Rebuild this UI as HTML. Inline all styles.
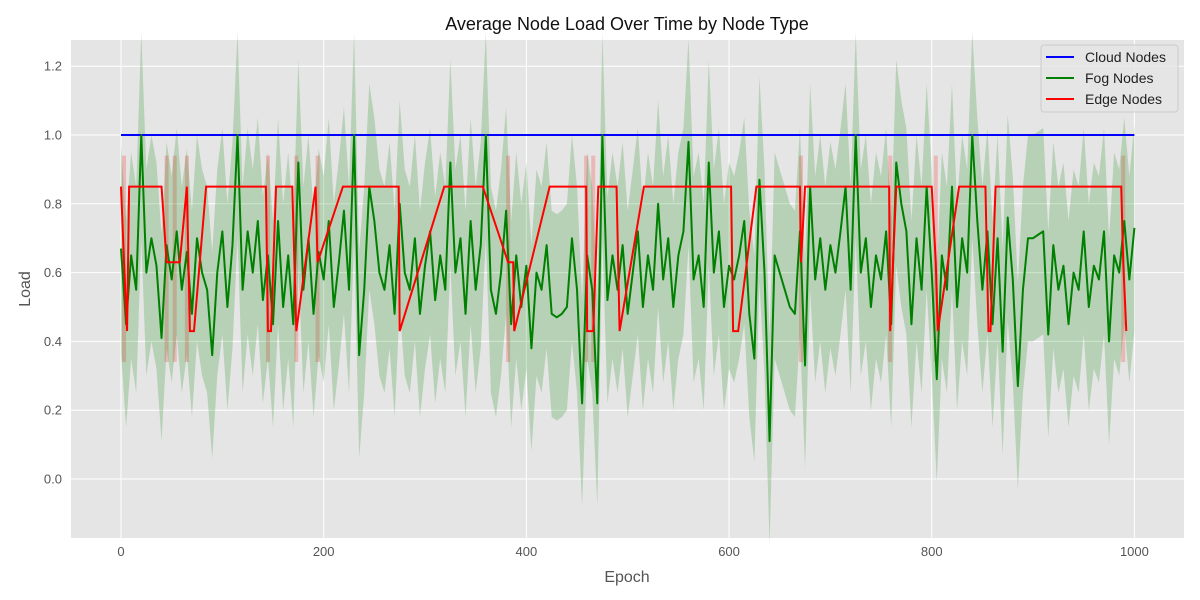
<!DOCTYPE html>
<html><head><meta charset="utf-8"><style>
body{margin:0;background:#fff;}
svg{display:block;font-family:"Liberation Sans","DejaVu Sans",sans-serif;}
</style></head><body>
<svg id="chart" width="1200" height="600" xmlns="http://www.w3.org/2000/svg">
<rect x="0" y="0" width="1200" height="600" fill="#fff"/>
<rect x="71" y="40" width="1113" height="498" fill="#e5e5e5"/>
<g id="grid"></g>
<g id="marks"></g>
<g id="axes"></g>
<text x="627" y="30" text-anchor="middle" font-size="18" fill="#111">Average Node Load Over Time by Node Type</text>
<text x="627" y="582" text-anchor="middle" font-size="16" fill="#555">Epoch</text>
<text x="30" y="289" text-anchor="middle" font-size="16" fill="#555" transform="rotate(-90 30 289)">Load</text>
<g>
<rect x="1041" y="45" width="137" height="67" fill="#e5e5e5" stroke="#ccc" rx="3" fill-opacity="0.8"/>
<g><line x1="1046" y1="57" x2="1074" y2="57" stroke="#0000ff" stroke-width="2"/><text x="1085" y="62" font-size="14" fill="#222">Cloud Nodes</text></g>
<g><line x1="1046" y1="78" x2="1074" y2="78" stroke="#008000" stroke-width="2"/><text x="1085" y="83" font-size="14" fill="#222">Fog Nodes</text></g>
<g><line x1="1046" y1="99" x2="1074" y2="99" stroke="#ff0000" stroke-width="2"/><text x="1085" y="104" font-size="14" fill="#222">Edge Nodes</text></g>
</g>
</svg>
<script>
const xTicks=[0,200,400,600,800,1000];
const yTicks=[0.0,0.2,0.4,0.6,0.8,1.0,1.2];
const cloudEpochs=[0,1000];
const cloudValues=[1.0,1.0];
const fogValues=[0.67,0.45,0.65,0.55,1.0,0.6,0.7,0.62,0.41,0.68,0.58,0.72,0.55,0.66,0.48,0.7,0.6,0.55,0.36,0.6,0.72,0.5,0.68,1.0,0.55,0.72,0.6,0.75,0.52,0.65,0.45,0.75,0.5,0.65,0.45,0.92,0.55,0.7,0.48,0.66,0.58,0.75,0.5,0.63,0.78,0.55,1.0,0.36,0.55,0.85,0.75,0.6,0.55,0.68,0.48,0.8,0.6,0.55,0.7,0.48,0.62,0.72,0.52,0.65,0.55,0.92,0.6,0.7,0.48,0.75,0.55,0.68,1.0,0.55,0.48,0.6,0.78,0.45,0.65,0.5,0.62,0.38,0.6,0.55,0.68,0.48,0.47,0.48,0.5,0.7,0.55,0.22,0.65,0.55,0.22,1.0,0.52,0.65,0.55,0.68,0.48,0.6,0.72,0.5,0.65,0.55,0.8,0.58,0.7,0.5,0.65,0.72,0.98,0.58,0.65,0.5,0.92,0.6,0.72,0.5,0.62,0.58,0.65,0.75,0.48,0.35,0.87,0.6,0.11,0.65,0.6,0.55,0.5,0.48,0.72,0.33,0.85,0.58,0.7,0.55,0.68,0.6,0.72,0.85,0.55,1.0,0.6,0.7,0.5,0.65,0.58,0.72,0.45,0.92,0.8,0.72,0.45,0.7,0.55,0.85,0.6,0.29,0.65,0.55,0.85,0.5,0.7,0.6,1.0,0.75,0.55,0.72,0.45,0.7,0.37,0.76,0.58,0.27,0.55,0.7,0.7,0.71,0.72,0.42,0.68,0.55,0.62,0.45,0.6,0.55,0.72,0.5,0.62,0.58,0.72,0.4,0.65,0.6,0.75,0.58,0.73];
const fogStep=5;
const fogSpread=0.3;
const edgeEpochs=[0,3,6,8,40,45,58,65,68,72,84,143,145,148,153,169,173,192,194,219,274,275,319,357,382,387,388,423,459,460,466,471,489,492,516,602,604,609,627,670,671,675,758,759,765,800,804,806,827,853,856,858,863,987,989,992];
const edgeValues=[0.85,0.63,0.43,0.85,0.85,0.63,0.63,0.85,0.43,0.43,0.85,0.85,0.43,0.43,0.85,0.85,0.43,0.85,0.63,0.85,0.85,0.43,0.85,0.85,0.63,0.63,0.43,0.85,0.85,0.43,0.43,0.85,0.85,0.43,0.85,0.85,0.43,0.43,0.85,0.85,0.63,0.85,0.85,0.43,0.85,0.85,0.63,0.43,0.85,0.85,0.43,0.43,0.85,0.85,0.63,0.43];
const edgeBandEpochs=[3,45,53,65,145,173,194,382,459,466,671,759,804,989];

const NS='http://www.w3.org/2000/svg';
const X=e=>121+e*1.0134;
const Y=v=>479-v*344;
function mk(tag,attrs,parent){const el=document.createElementNS(NS,tag);for(const k in attrs)el.setAttribute(k,attrs[k]);parent.appendChild(el);return el;}
const grid=document.getElementById('grid'),marks=document.getElementById('marks'),axes=document.getElementById('axes');
xTicks.forEach(t=>{
  const l=mk('line',{x1:X(t),x2:X(t),y1:40,y2:538,stroke:'#fff','stroke-width':1},grid);
  
  
  const tx=mk('text',{x:X(t),y:556,'text-anchor':'middle','font-size':13,fill:'#555'},axes);
  tx.textContent=t;
  
  
});
yTicks.forEach(t=>{
  const l=mk('line',{x1:71,x2:1184,y1:Y(t),y2:Y(t),stroke:'#fff','stroke-width':1},grid);
  
  
  const tx=mk('text',{x:62,y:Y(t)+4.5,'text-anchor':'end','font-size':13,fill:'#555'},axes);
  tx.textContent=t.toFixed(1);
  
  
});
// edge band shading
edgeBandEpochs.forEach(e=>{
  const r=mk('rect',{x:X(e)-2,y:Y(0.94),width:4,height:Y(0.34)-Y(0.94),fill:'#ff0000','fill-opacity':0.2},marks);
  
  
});
// fog band
let up='',lo='';
fogValues.forEach((v,i)=>{up+=(i?'L':'M')+X(i*fogStep)+','+Y(v+fogSpread);});
for(let i=fogValues.length-1;i>=0;i--){up+='L'+X(i*fogStep)+','+Y(fogValues[i]-fogSpread);}
const band=mk('path',{d:up+'Z',fill:'#008000','fill-opacity':0.2},marks);


const cloud=mk('polyline',{points:cloudEpochs.map((e,i)=>X(e)+','+Y(cloudValues[i])).join(' '),fill:'none',stroke:'#0000ff','stroke-width':2},marks);


const fog=mk('polyline',{points:fogValues.map((v,i)=>X(i*fogStep)+','+Y(v)).join(' '),fill:'none',stroke:'#008000','stroke-width':2,'stroke-linejoin':'round'},marks);


const edge=mk('polyline',{points:edgeEpochs.map((e,i)=>X(e)+','+Y(edgeValues[i])).join(' '),fill:'none',stroke:'#ff0000','stroke-width':2},marks);


</script>
</body></html>
